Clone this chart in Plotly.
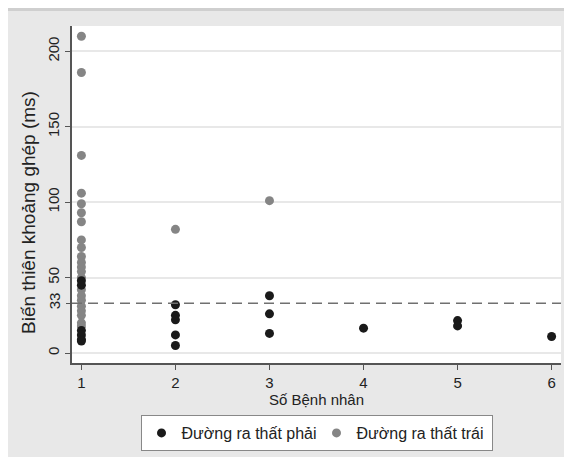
import plotly.graph_objects as go

# ---- data ----
right_x = [1, 1, 1, 1, 1, 1,
           2, 2, 2, 2, 2,
           3, 3, 3,
           4,
           5, 5,
           6]
right_y = [48, 45, 15, 12, 9, 8,
           32, 25, 22, 12, 5,
           38, 26, 13,
           16.5,
           21.5, 18,
           11]
left_x = [1] * 22 + [2, 3]
left_y = [210, 186, 131, 106, 99, 93, 87, 75, 70, 64, 60, 57, 54, 50,
          42, 38, 35, 31, 28, 25, 20, 18,
          82, 101]
ref_value = 33
y_ticks = [0, 50, 100, 150, 200]
x_ticks = [1, 2, 3, 4, 5, 6]
y_title = "Biến thiên khoảng ghép (ms)"
x_title = "Số Bệnh nhân"

# ---- layout geometry (figure coords; page adds an 8px body margin) ----
W_FIG, H_FIG = 564, 449
L, R, T, B = 64, 553, 18, 355
PW, PH = R - L, B - T


def px(p):
    return (p - L) / PW


def py(p):
    return (B - p) / PH


FONT = "Liberation Sans, Arial, sans-serif"
TXT = "#222222"

fig = go.Figure()
fig.add_trace(go.Scatter(
    x=left_x, y=left_y, mode="markers", name="Đường ra thất trái",
    marker=dict(color="#858585", size=9), legendrank=2))
fig.add_trace(go.Scatter(
    x=right_x, y=right_y, mode="markers", name="Đường ra thất phải",
    marker=dict(color="#1a1a1a", size=9), legendrank=1))
# invisible trace to activate the secondary y axis (for the 33 tick)
fig.add_trace(go.Scatter(x=[None], y=[None], yaxis="y2", showlegend=False,
                         hoverinfo="skip"))

yrange = [-6.6, 216.8]
fig.update_layout(
    template="none",
    width=W_FIG, height=H_FIG,
    margin=dict(l=L, r=W_FIG - R, t=T, b=H_FIG - B, autoexpand=False),
    paper_bgcolor="#e8e8e8", plot_bgcolor="white",
    font=dict(family=FONT, size=15, color=TXT),
    xaxis=dict(range=[0.9, 6.1], tickvals=x_ticks, showgrid=False,
               zeroline=False, showline=True, linecolor="#555555",
               linewidth=1.5, ticks="outside", ticklen=5, tickcolor="#555555",
               tickfont=dict(size=15), automargin=False,
               title=dict(text=x_title, font=dict(size=15), standoff=0)),
    yaxis=dict(range=yrange, tickvals=y_ticks, showgrid=True,
               gridcolor="#e8e8e8", gridwidth=2, zeroline=False,
               showline=True, linecolor="#555555", linewidth=1.5,
               ticks="outside", ticklen=5, tickcolor="#555555",
               tickangle=-90, tickfont=dict(size=15), automargin=False),
    yaxis2=dict(range=yrange, overlaying="y", side="left", anchor="x",
                tickvals=[ref_value], ticktext=[str(ref_value)],
                showgrid=False, zeroline=False, showline=False,
                ticks="outside", ticklen=5, tickcolor="#555555",
                tickangle=-90, tickfont=dict(size=15), automargin=False),
    legend=dict(orientation="h", x=0.5, xanchor="center",
                y=py(407), yanchor="top", bgcolor="white",
                bordercolor="#888888", borderwidth=1,
                font=dict(size=16), itemwidth=30, entrywidth=130,
                traceorder="normal"),
    showlegend=True,
)

# y-axis title as a rotated annotation (centred a little below mid-plot)
fig.add_annotation(text=y_title, textangle=-90, showarrow=False,
                   xref="paper", yref="paper", x=px(21), y=py(205),
                   xanchor="center", yanchor="middle",
                   font=dict(size=19, color=TXT, family=FONT))

shapes = [
    # reference dashed line
    dict(type="line", xref="paper", yref="y", x0=0, x1=1,
         y0=ref_value, y1=ref_value,
         line=dict(color="#707070", width=1.5, dash="10px,6px")),
    # darker strip along the top of the frame
    dict(type="rect", xref="paper", yref="paper", x0=px(0), x1=px(W_FIG),
         y0=py(3), y1=py(0), fillcolor="#cfcfcf", line=dict(width=0)),
]
fig.update_layout(shapes=shapes)

fig.write_html("out.html")
